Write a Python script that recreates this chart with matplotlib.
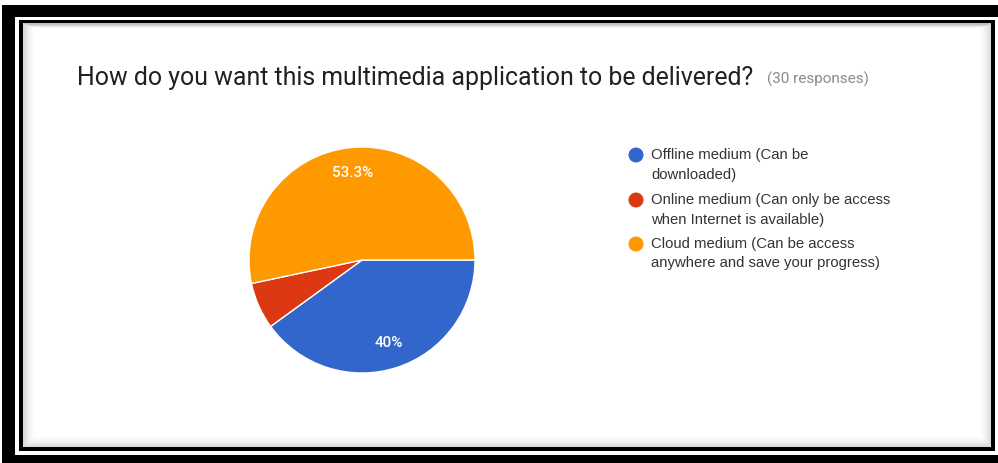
import matplotlib
matplotlib.use("Agg")
import matplotlib.pyplot as plt
from matplotlib.patches import Rectangle, Ellipse

W, H = 998, 463

title = "How do you want this multimedia application to be delivered?"
responses = "(30 responses)"
labels = [["Offline medium (Can be", "downloaded)"],
          ["Online medium (Can only be access", "when Internet is available)"],
          ["Cloud medium (Can be access", "anywhere and save your progress)"]]
counts = [12, 2, 16]
colors = ["#3366CC", "#DC3912", "#FF9900"]


def box(x0, y0, x1, y1, **kw):
    # pixel box (top-left origin) -> figure rectangle
    return Rectangle((x0 / W, 1 - y1 / H), (x1 - x0) / W, (y1 - y0) / H,
                     transform=fig.transFigure, **kw)


def fmt_pct(p):
    if p < 10:
        return ""
    return ("%.1f" % p).rstrip("0").rstrip(".") + "%"


fig = plt.figure(figsize=(W / 100, H / 100), dpi=100)
fig.patch.set_facecolor("white")

# outer heavy frame
fig.patches.append(box(2, 5, 1010, 463, facecolor="black", edgecolor="none"))
fig.patches.append(box(15, 17, 1010, 455, facecolor="white", edgecolor="none"))
# inner thin frame
fig.patches.append(box(19, 20, 995, 451, facecolor="black", edgecolor="none"))
fig.patches.append(box(23, 23, 991, 447, facecolor="white", edgecolor="none"))
# soft inner shadow
for i in range(12):
    a = 0.13 * (1 - i / 12) ** 1.6
    fig.patches.append(box(23 + i, 23 + i * 0.4, 991 - i, 447 - i,
                           facecolor="none", edgecolor=(0, 0, 0, a), linewidth=0.9))

fig.text(77 / W, 1 - 78 / H, title, fontsize=17.9, family="Roboto",
         color="#212121", va="center", ha="left", zorder=5)
fig.text(767 / W, 1 - 79 / H, responses, fontsize=11, family="Roboto",
         color="#8a8a8a", va="center", ha="left", zorder=5)

# pie
cx, cy, r = 362, 260, 113
ax = fig.add_axes([(cx - r) / W, (H - cy - r) / H, 2 * r / W, 2 * r / H])
ax.set_zorder(5)
ax.patch.set_visible(False)
wedges, texts, autotexts = ax.pie(counts, colors=colors, startangle=0, counterclock=False,
                                  autopct=fmt_pct, pctdistance=0.77,
                                  wedgeprops=dict(edgecolor="white", linewidth=1))
for t in autotexts:
    t.set_color("white")
    t.set_fontsize(11)
    t.set_family("Roboto")
    t.set_fontweight("medium")
ax.set_xlim(-1.0, 1.0)
ax.set_ylim(-1.0, 1.0)
ax.set_aspect("auto")
ax.axis("off")

# legend
rows = [155, 200, 244]
for lines, col, y in zip(labels, colors, rows):
    fig.patches.append(Ellipse((636 / W, 1 - y / H), 15 / W, 15 / H, transform=fig.transFigure,
                               facecolor=col, edgecolor="none", zorder=5))
    for k, line in enumerate(lines):
        fig.text(651 / W, 1 - (y + 19.5 * k) / H, line, fontsize=10.7,
                 family="Liberation Sans", color="#333333", va="center", ha="left", zorder=5)

fig.savefig("out.png", dpi=100)
